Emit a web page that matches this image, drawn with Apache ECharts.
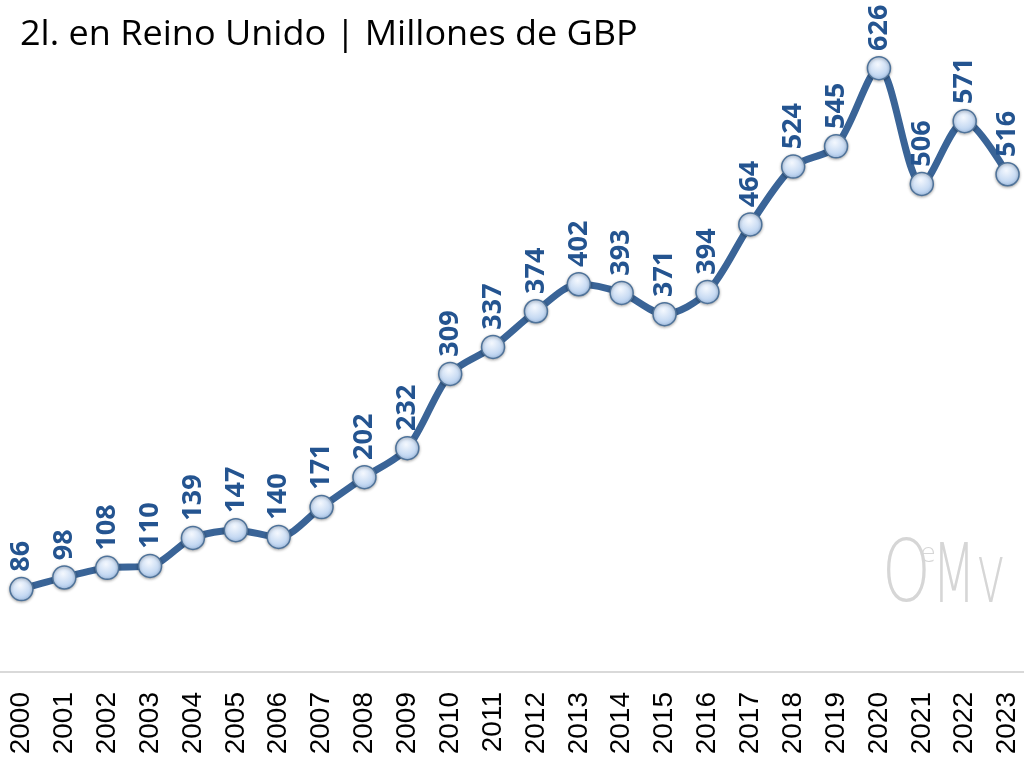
<!DOCTYPE html>
<html>
<head>
<meta charset="utf-8">
<script src="https://cdn.jsdelivr.net/npm/echarts@6/dist/echarts.min.js"></script>
<style>
  html, body { margin: 0; padding: 0; background: #ffffff; }
  #chart { width: 1024px; height: 764px; }
</style>
</head>
<body>
<div id="chart"></div>
<script>
// Annual values, million GBP
const years = ['2000','2001','2002','2003','2004','2005','2006','2007','2008','2009','2010','2011',
               '2012','2013','2014','2015','2016','2017','2018','2019','2020','2021','2022','2023'];
const values = [86, 98, 108, 110, 139, 147, 140, 171, 202, 232, 309, 337,
                374, 402, 393, 371, 394, 464, 524, 545, 626, 506, 571, 516];
const subtitle = '2l. en Reino Unido | Millones de GBP';

const chart = echarts.init(document.getElementById('chart'), null, { renderer: 'canvas' });

chart.setOption({
  backgroundColor: '#ffffff',
  animation: false,
  grid: { left: 0, width: 1029, top: 45, bottom: 92, containLabel: false, outerBoundsMode: 'none' },
  xAxis: {
    type: 'category',
    data: years,
    boundaryGap: true,
    axisLine: { show: true, lineStyle: { color: '#d9d9d9', width: 2 } },
    axisTick: { show: false },
    axisLabel: {
      rotate: 90,
      margin: 20,
      interval: 0,
      color: '#000000',
      fontSize: 28,
      fontFamily: 'Liberation Sans, Arial, sans-serif'
    }
  },
  yAxis: {
    type: 'value',
    min: 0,
    max: 650,
    show: false,
    splitLine: { show: false }
  },
  graphic: [
    {
      type: 'text',
      left: 20,
      top: 18,
      scaleX: 1.06,
      style: {
        text: subtitle,
        fill: '#000000',
        font: '34px "Open Sans", sans-serif'
      }
    },
    {
      // OeMv mark, lower right
      type: 'group',
      left: 882,
      top: 536,
      children: [
        { type: 'text', x: 0, y: 0, scaleX: 0.72, style: { text: 'O', fill: '#d6d6d6', font: '200 86px "DejaVu Sans", sans-serif' } },
        { type: 'text', x: 38, y: 6, style: { text: 'e', fill: '#d6d6d6', font: '300 26px "DejaVu Sans", sans-serif' } },
        { type: 'text', x: 50, y: 4, scaleX: 0.62, style: { text: 'Mv', fill: '#d6d6d6', font: '200 82px "DejaVu Sans", sans-serif' } }
      ]
    }
  ],
  series: [{
    type: 'line',
    data: values,
    smooth: 0.3,
    symbol: 'circle',
    symbolSize: 23,
    lineStyle: { color: '#3a6497', width: 7 },
    itemStyle: {
      color: new echarts.graphic.RadialGradient(0.45, 0.35, 0.7, [
        { offset: 0, color: '#f4f8fe' },
        { offset: 0.6, color: '#c8dbf3' },
        { offset: 1, color: '#9ebde4' }
      ]),
      borderColor: '#4e7299',
      borderWidth: 1.5,
      shadowColor: 'rgba(0,0,0,0.3)',
      shadowBlur: 3,
      shadowOffsetY: 1
    },
    label: {
      show: true,
      position: 'top',
      distance: 5,
      rotate: 90,
      align: 'left',
      verticalAlign: 'middle',
      color: '#245490',
      fontSize: 27,
      fontWeight: 'bold',
      fontFamily: '"Open Sans", Lato, sans-serif'
    }
  }]
});
</script>
</body>
</html>
